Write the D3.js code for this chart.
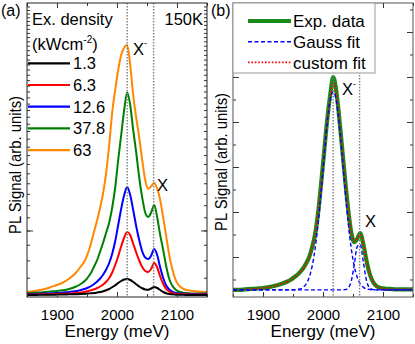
<!DOCTYPE html>
<html><head><meta charset="utf-8">
<script src="https://cdn.jsdelivr.net/npm/d3@7"></script>
<style>
body{margin:0;background:#fff;}
svg{display:block;font-family:"Liberation Sans",Arial,Helvetica,sans-serif;}
</style></head><body>
<svg id="c" width="415" height="344"></svg>
<script>
// ---------- data ----------
const energy = [1850,1860,1870,1880,1890,1900,1910,1920,1930,1940,
  1947,1952,1957,1962,1967,1972,1977,1982,1987,1992,1997,2002,2007,2012,2017,2022,2027,2032,2037,2042,
  2047,2052,2057,2062,2067,2072,2077,2082,2087,2092,2097,2102,2107,2112,
  2120,2130,2140,2150];

const densityLabels = ["1.3","6.3","12.6","37.8","63"];

const pl_1_3 = [0,0,0.05,0.1,0.1,0.15,0.2,0.25,0.3,0.4,
  0.5,0.6,0.7,0.8,1.0,1.2,1.5,1.9,2.4,3.1,3.9,4.8,5.6,6.2,6.4,6.0,5.2,4.3,3.4,2.7,
  2.2,2.1,2.6,3.2,2.8,2.0,1.2,0.7,0.4,0.25,0.15,0.1,0.1,0.05,
  0,0,0,0];
const pl_6_3 = [0.2,0.2,0.25,0.3,0.35,0.4,0.5,0.6,0.8,1.0,
  1.3,1.6,1.9,2.3,2.8,3.4,4.2,5.3,6.8,9,12,15.5,19.5,23,25.2,24,20.5,17,13.8,11.2,
  9.6,9.2,10.5,12.8,11,7.4,4.4,2.4,1.3,0.8,0.5,0.4,0.3,0.3,
  0.25,0.2,0.2,0.2];
const pl_12_6 = [0.4,0.45,0.5,0.6,0.7,0.8,1.0,1.2,1.5,2.0,
  2.5,3.0,3.6,4.4,5.4,6.6,8.2,10.2,12.8,16.5,21.5,28,34.5,40,43.2,40,34,27.5,22,17.5,
  15,14.4,15.8,18.4,16,11,6.8,3.8,2.2,1.3,0.9,0.7,0.6,0.5,
  0.45,0.4,0.4,0.4];
const pl_37_8 = [0.8,0.9,1.0,1.2,1.4,1.6,1.9,2.4,3.2,4.5,
  5.8,7.2,9,11.5,14,17.5,21,25,29,35,43,54,64,74,81,76,66,57,47,39,
  33,31.2,33,36,31,24,18,11.5,6.5,3.8,2.3,1.5,1.1,0.9,
  0.7,0.6,0.6,0.6];
const pl_63 = [1.2,1.5,1.9,2.4,3.2,4.0,5.0,6.5,8.5,11.5,
  14,17,21,25.5,30,35,41,49,60,73,82,90,96,99,100,92,80,71,63,54,
  46,42.5,43.5,44.8,42.5,38,31,23.5,16,10.5,6.5,4.2,3.0,2.3,
  1.8,1.5,1.3,1.2];

const expData = [0.27,0.27,0.28,0.29,0.30,0.31,0.33,0.36,0.40,0.45,
  0.50,0.55,0.60,0.67,0.75,0.86,1.0,1.22,1.52,2.0,2.65,3.35,4.05,4.6,5.0,4.7,4.1,3.4,2.7,2.05,
  1.55,1.33,1.40,1.53,1.3,0.95,0.66,0.48,0.38,0.33,0.31,0.30,0.29,0.29,
  0.28,0.28,0.28,0.28];
const gaussTrion = [0.27,0.27,0.27,0.27,0.27,0.27,0.27,0.27,0.27,0.27,
  0.27,0.27,0.28,0.29,0.33,0.40,0.55,0.80,1.20,1.76,2.47,3.25,3.97,4.49,4.67,4.49,3.97,3.25,2.47,1.76,
  1.20,0.80,0.55,0.40,0.33,0.29,0.28,0.27,0.27,0.27,0.27,0.27,0.27,0.27,
  0.27,0.27,0.27,0.27];
const gaussExciton = [0.27,0.27,0.27,0.27,0.27,0.27,0.27,0.27,0.27,0.27,
  0.27,0.27,0.27,0.27,0.27,0.27,0.27,0.27,0.27,0.27,0.27,0.27,0.27,0.27,0.27,0.27,0.27,0.27,0.275,0.31,
  0.46,0.82,1.23,1.28,0.91,0.51,0.32,0.28,0.27,0.27,0.27,0.27,0.27,0.27,
  0.27,0.27,0.27,0.27];
const customFit = [0.27,0.27,0.28,0.29,0.30,0.31,0.33,0.36,0.40,0.45,
  0.50,0.55,0.60,0.67,0.75,0.86,1.0,1.22,1.52,2.0,2.63,3.33,4.02,4.55,4.87,4.65,4.08,3.4,2.7,2.05,
  1.56,1.35,1.40,1.50,1.3,0.95,0.66,0.48,0.38,0.33,0.31,0.30,0.29,0.29,
  0.28,0.28,0.28,0.28];

const xTickMajor = [1900,2000,2100];
const xTickMinor = [1850,1950,2050,2150];
const peakEnergies = [2017,2061];

// ---------- styles ----------
const densityColors = ["#000000","#ff0000","#0000ff","#008000","#ff8800"];

const svg = d3.select("#c");
const FONT = "Liberation Sans, Arial, sans-serif";

function panel(opt){
  const g = svg.append("g");
  const {x, y, L, R, T, B} = opt;
  // dotted peak lines
  return g;
}

function frameAndAxes(g, x, y, L, R, T, B, frameColor){
  // bottom major
  g.append("g").attr("transform",`translate(0,${B})`)
    .call(d3.axisBottom(x).tickValues(xTickMajor).tickSize(-5).tickPadding(12).tickFormat(d3.format("d")))
    .call(s=>s.select(".domain").remove())
    .call(s=>s.selectAll("text").attr("font-size",15).attr("font-family",FONT).attr("fill","#000"));
  g.append("g").attr("transform",`translate(0,${B})`)
    .call(d3.axisBottom(x).tickValues(xTickMinor).tickSize(-3).tickFormat(""))
    .call(s=>s.select(".domain").remove());
  g.append("g").attr("transform",`translate(0,${T})`)
    .call(d3.axisTop(x).tickValues(xTickMajor).tickSize(-5).tickFormat(""))
    .call(s=>s.select(".domain").remove());
  g.append("g").attr("transform",`translate(0,${T})`)
    .call(d3.axisTop(x).tickValues(xTickMinor).tickSize(-3).tickFormat(""))
    .call(s=>s.select(".domain").remove());
  g.selectAll(".tick line").attr("stroke","#333");
}

// ================= Panel (a) =================
const La=27, Ra=207, T=3, B=297;
const xA = d3.scaleLinear().domain([1850,2150]).range([La,Ra]);
const yA = d3.scaleLinear().domain([-0.8,116.8]).range([B,T]);
const gA = svg.append("g");

const seriesA = [pl_63, pl_37_8, pl_12_6, pl_6_3, pl_1_3];
const colorsA = [densityColors[4],densityColors[3],densityColors[2],densityColors[1],densityColors[0]];
const lineA = d3.line().x((d,i)=>xA(energy[i])).y(d=>yA(d)).curve(d3.curveMonotoneX);
seriesA.forEach((s,k)=>{
  gA.append("path").datum(s).attr("d",lineA).attr("fill","none")
    .attr("stroke",colorsA[k]).attr("stroke-width",2).attr("stroke-linejoin","round");
});
// peak markers
gA.selectAll(".pk").data(peakEnergies).join("line")
  .attr("x1",d=>xA(d)).attr("x2",d=>xA(d)).attr("y1",T).attr("y2",B)
  .attr("stroke","#808080").attr("stroke-width",1.4).attr("stroke-dasharray","1.4,1.6");

frameAndAxes(gA, xA, yA, La, Ra, T, B);
// y ticks (unlabelled, arbitrary units)
const yTickA = d3.scaleLog().domain([1,6]).range([B,T]);
const yTickValsA = d3.range(1.125,6,0.125);
gA.append("g").attr("transform",`translate(${La},0)`)
  .call(d3.axisLeft(yTickA).tickValues(yTickValsA).tickSize(-3).tickFormat(""))
  .call(s=>s.select(".domain").remove());
gA.append("g").attr("transform",`translate(${Ra},0)`)
  .call(d3.axisRight(yTickA).tickValues(yTickValsA).tickSize(-3).tickFormat(""))
  .call(s=>s.select(".domain").remove());
gA.append("g").attr("transform",`translate(${La},0)`)
  .call(d3.axisLeft(yTickA).tickValues([1.5]).tickSize(-6).tickFormat(""))
  .call(s=>s.select(".domain").remove());
gA.append("g").attr("transform",`translate(${Ra},0)`)
  .call(d3.axisRight(yTickA).tickValues([1.5]).tickSize(-6).tickFormat(""))
  .call(s=>s.select(".domain").remove());
gA.selectAll(".tick line").attr("stroke","#333");
gA.append("rect").attr("x",La).attr("y",T).attr("width",Ra-La).attr("height",B-T)
  .attr("fill","none").attr("stroke","#222").attr("stroke-width",1);

// legend (a)
gA.append("text").attr("x",32).attr("y",25).attr("font-size",16.5).text("Ex. density");
const unit = gA.append("text").attr("x",32).attr("y",50).attr("font-size",16.5);
unit.append("tspan").text("(kWcm");
unit.append("tspan").attr("font-size",10).attr("dy",-7).text("-2");
unit.append("tspan").attr("dy",7).text(")");
densityLabels.forEach((lab,i)=>{
  const yy = 63.3 + i*21.7;
  gA.append("line").attr("x1",La+1).attr("x2",70).attr("y1",yy).attr("y2",yy)
    .attr("stroke",densityColors[i]).attr("stroke-width",2.2);
  gA.append("text").attr("x",73).attr("y",yy).attr("dy","0.36em").attr("font-size",16.5).text(lab);
});
gA.append("text").attr("x",203).attr("y",25).attr("text-anchor","end").attr("font-size",16.5).text("150K");
const xm = gA.append("text").attr("x",133).attr("y",55).attr("font-size",16.5);
xm.append("tspan").text("X");
xm.append("tspan").attr("font-size",9).attr("dy",-9).text("-");
gA.append("text").attr("x",157).attr("y",191).attr("font-size",16.5).text("X");

// labels
gA.append("text").attr("x",1).attr("y",16).attr("font-size",16).text("(a)");
gA.append("text").attr("x",(La+Ra)/2).attr("y",337).attr("text-anchor","middle").attr("font-size",17).text("Energy (meV)");
gA.append("text").attr("transform",`translate(21,165) rotate(-90)`).attr("text-anchor","middle")
  .attr("font-size",16).attr("textLength",138).attr("lengthAdjust","spacingAndGlyphs").text("PL Signal (arb. units)");

// ================= Panel (b) =================
const Lb=233, Rb=413;
const xB = d3.scaleLinear().domain([1850,2150]).range([Lb,Rb]);
const yB = d3.scaleLinear().domain([0.111,6.644]).range([B,T]);
const gB = svg.append("g");
const lineB = d3.line().x((d,i)=>xB(energy[i])).y(d=>yB(d)).curve(d3.curveMonotoneX);

gB.append("path").datum(expData).attr("d",lineB).attr("fill","none")
  .attr("stroke","#1a8a1a").attr("stroke-width",4.2).attr("stroke-linejoin","round");
gB.append("path").datum(customFit).attr("d",lineB).attr("fill","none")
  .attr("stroke","#ff0000").attr("stroke-width",1.6).attr("stroke-dasharray","1.6,1.8");
[gaussTrion,gaussExciton].forEach(s=>{
  gB.append("path").datum(s).attr("d",lineB).attr("fill","none")
    .attr("stroke","#0000ff").attr("stroke-width",1.4).attr("stroke-dasharray","4,2.5");
});
gB.selectAll(".pk").data(peakEnergies).join("line")
  .attr("x1",d=>xB(d)).attr("x2",d=>xB(d)).attr("y1",T).attr("y2",B)
  .attr("stroke","#808080").attr("stroke-width",1.4).attr("stroke-dasharray","1.4,1.6");

frameAndAxes(gB, xB, yB, Lb, Rb, T, B);
const yMajB = [1,2,3,4,5,6], yMinB = [0.5,1.5,2.5,3.5,4.5,5.5,6.5];
[[yMajB,-6],[yMinB,-3]].forEach(([v,sz])=>{
  gB.append("g").attr("transform",`translate(${Lb},0)`)
    .call(d3.axisLeft(yB).tickValues(v).tickSize(sz).tickFormat(""))
    .call(s=>s.select(".domain").remove());
  gB.append("g").attr("transform",`translate(${Rb},0)`)
    .call(d3.axisRight(yB).tickValues(v).tickSize(sz).tickFormat(""))
    .call(s=>s.select(".domain").remove());
});
gB.selectAll(".tick line").attr("stroke","#333");
gB.append("rect").attr("x",Lb).attr("y",T).attr("width",Rb-Lb).attr("height",B-T)
  .attr("fill","none").attr("stroke","#555").attr("stroke-width",1);

// legend (b)
const lg = gB.append("g");
lg.append("rect").attr("x",Lb).attr("y",T).attr("width",142).attr("height",70)
  .attr("fill","#fff").attr("stroke","#999").attr("stroke-width",1);
const legB = [
  {t:"Exp. data", c:"#1a8a1a", w:4.2, da:null},
  {t:"Gauss fit", c:"#0000ff", w:1.4, da:"4,2.5"},
  {t:"custom fit", c:"#ff0000", w:1.6, da:"1.6,1.8"}
];
legB.forEach((e,i)=>{
  const yy = 21 + i*20.7;
  const ln = lg.append("line").attr("x1",248).attr("x2",291).attr("y1",yy).attr("y2",yy)
    .attr("stroke",e.c).attr("stroke-width",e.w);
  if(e.da) ln.attr("stroke-dasharray",e.da);
  lg.append("text").attr("x",293).attr("y",yy).attr("dy","0.36em").attr("font-size",17).text(e.t);
});
const xm2 = gB.append("text").attr("x",342).attr("y",95).attr("font-size",16.5);
xm2.append("tspan").text("X");
xm2.append("tspan").attr("font-size",9).attr("dy",-8).text("-");
gB.append("text").attr("x",365).attr("y",227).attr("font-size",16.5).text("X");

gB.append("text").attr("x",211).attr("y",16).attr("font-size",16).text("(b)");
gB.append("text").attr("x",(Lb+Rb)/2).attr("y",337).attr("text-anchor","middle").attr("font-size",17).text("Energy (meV)");
gB.append("text").attr("transform",`translate(227,162) rotate(-90)`).attr("text-anchor","middle")
  .attr("font-size",16).attr("textLength",138).attr("lengthAdjust","spacingAndGlyphs").text("PL Signal (arb. units)");
</script>
</body></html>
